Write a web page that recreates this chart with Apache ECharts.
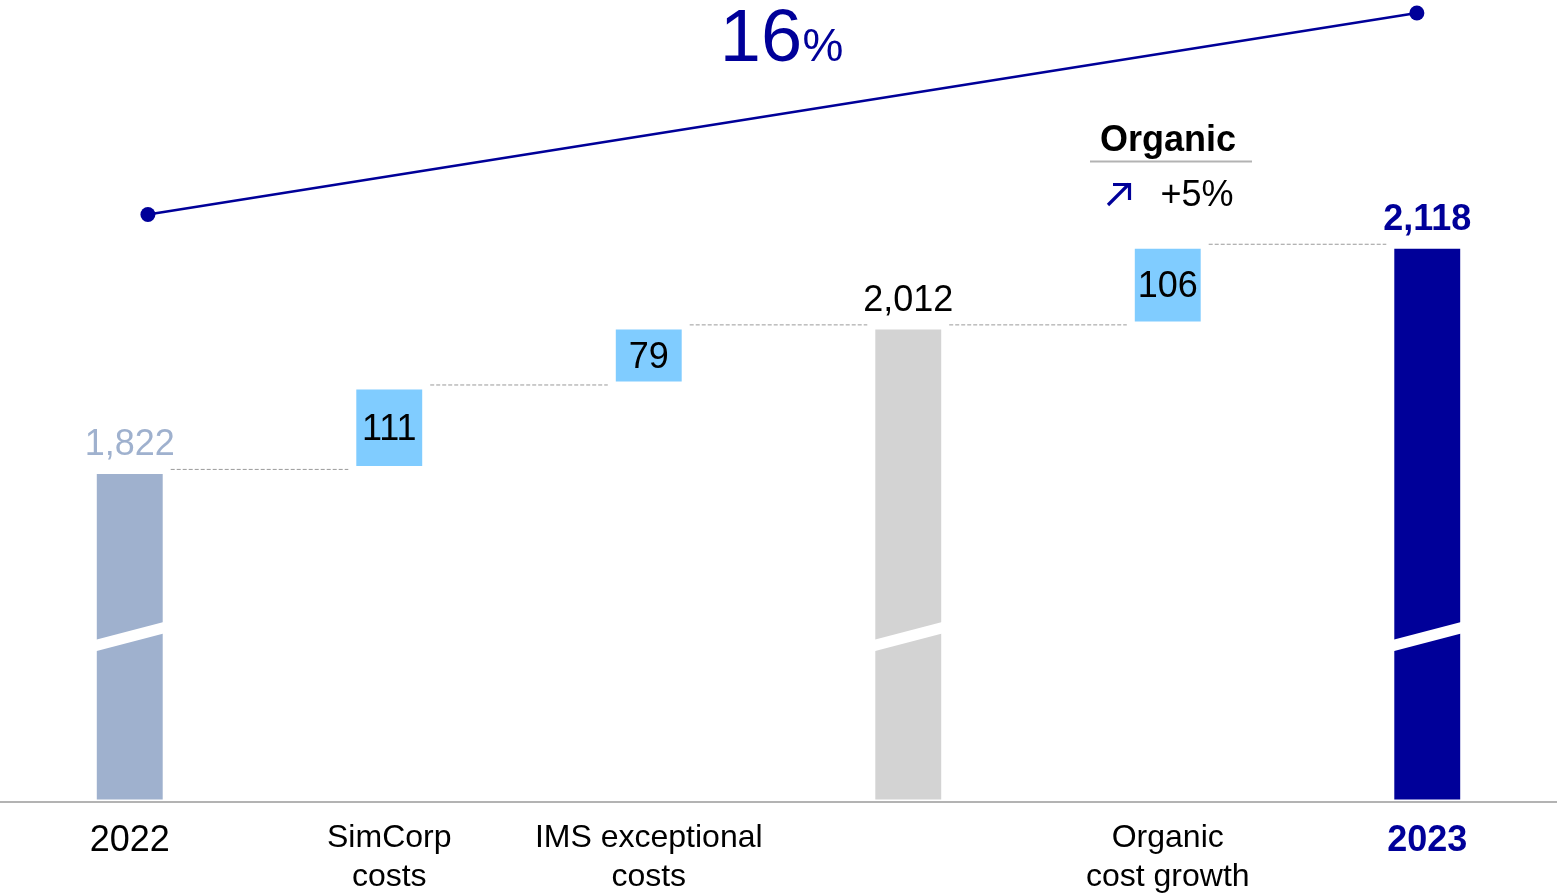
<!DOCTYPE html>
<html>
<head>
<meta charset="utf-8">
<script src="https://cdn.jsdelivr.net/npm/echarts@6/dist/echarts.min.js"></script>
<style>
  html, body { margin: 0; padding: 0; background: #fff; }
  #chart { width: 1557px; height: 893px; }
</style>
</head>
<body>
<div id="chart"></div>
<script>
// Cost bridge 2022 -> 2023 (DKKm)
const categories = ['2022', 'SimCorp\ncosts', 'IMS exceptional\ncosts', '', 'Organic\ncost growth', '2023'];
const totals     = [1822, null, null, 2012, null, 2118];   // full bars
const changes    = [null, 111, 79, null, 106, null];       // floating steps
const totalGrowthPct = 16;
const organicGrowthPct = 5;
// overall growth line: [category position, value]
const growthLine = [[0.07, 2163], [4.96, 2428]];

const FONT = "'Liberation Sans', Arial, sans-serif";
const NAVY = '#000099';
const barColors   = ['#9FB1CE', '#80CCFF', '#80CCFF', '#D3D3D3', '#80CCFF', NAVY];
const totalLabelColors = ['#9FB1CE', null, null, '#000000', null, NAVY];
const totalLabelWeights = ['normal', null, null, 'normal', null, 'bold'];

const Y_MIN = 1394, Y_MAX = 2445;
const AXIS_BREAK = 1608;     // value where the truncated bars are cut
const BAR_RATIO = 0.254;
const STEP_GAP = 8;          // px gap under floating bars
const fmt = v => v.toLocaleString('en-US');

// build bar rows from the data
const barRows = [];
const levels = [];
let level = 0;
categories.forEach((c, i) => {
  if (totals[i] != null) {
    barRows.push({ low: Y_MIN, high: totals[i], value: totals[i], kind: 'total' });
    level = totals[i];
  } else {
    barRows.push({ low: level, high: level + changes[i], value: changes[i], kind: 'step' });
    level += changes[i];
  }
  levels.push(level);
});

function renderBar(params, api) {
  const i = params.dataIndex;
  const row = barRows[i];
  const w = api.size([1, 0])[0] * BAR_RATIO;
  const top = api.coord([i, row.high]);
  const xc = top[0], yTop = top[1];
  let yBot = api.coord([i, row.low])[1];
  if (row.kind === 'step') yBot -= STEP_GAP;
  const children = [{
    type: 'rect',
    shape: { x: xc - w / 2, y: yTop, width: w, height: yBot - yTop },
    style: { fill: barColors[i] }
  }];
  if (row.kind === 'total') {
    // slanted white cut marking the truncated axis
    const yc = api.coord([i, AXIS_BREAK])[1];
    const half = w / 2 + 1, dy = half * 0.262, h = 5.75;
    children.push({
      type: 'polygon',
      shape: { points: [[xc - half, yc + dy - h], [xc + half, yc - dy - h], [xc + half, yc - dy + h], [xc - half, yc + dy + h]] },
      style: { fill: '#ffffff' }
    });
    children.push({
      type: 'text',
      style: {
        text: fmt(row.value), x: xc, y: yTop - 28.5,
        fill: totalLabelColors[i], fontSize: 36, fontFamily: FONT, fontWeight: totalLabelWeights[i],
        align: 'center', verticalAlign: 'middle', textAlign: 'center', textVerticalAlign: 'middle'
      }
    });
  } else {
    children.push({
      type: 'text',
      style: {
        text: fmt(row.value), x: xc, y: (yTop + yBot) / 2 + 2.5,
        fill: '#000000', fontSize: 36, fontFamily: FONT,
        align: 'center', verticalAlign: 'middle', textAlign: 'center', textVerticalAlign: 'middle'
      }
    });
  }
  return { type: 'group', children };
}

function renderConnector(params, api) {
  const i = params.dataIndex;
  const w = api.size([1, 0])[0] * BAR_RATIO;
  const a = api.coord([i, levels[i]]);
  const b = api.coord([i + 1, levels[i]]);
  const y = a[1] - 4.5;
  return {
    type: 'line',
    shape: { x1: a[0] + w / 2 + 8, y1: y, x2: b[0] - w / 2 - 8, y2: y },
    style: { stroke: '#9a9a9a', lineWidth: 1, lineDash: [4, 2] }
  };
}

const chart = echarts.init(document.getElementById('chart'), null, { renderer: 'canvas' });
chart.setOption({
  animation: false,
  backgroundColor: '#ffffff',
  grid: { left: -1.5, right: -2.5, top: 0, bottom: 92 },
  xAxis: [{
    type: 'category',
    data: categories,
    offset: 2,
    axisTick: { show: false },
    axisLine: { lineStyle: { color: '#9a9a9a', width: 1.5 } },
    axisLabel: {
      interval: 0,
      margin: 17,
      formatter: (v, i) => {
        if (i === 0) return '{y|' + v + '}';
        if (i === categories.length - 1) return '{e|' + v + '}';
        if (!v) return '';
        return v.split('\n').map(s => '{t|' + s + '}').join('\n');
      },
      rich: {
        y: { fontSize: 36, lineHeight: 46, color: '#000', fontFamily: FONT },
        e: { fontSize: 36, lineHeight: 46, color: NAVY, fontWeight: 'bold', fontFamily: FONT },
        t: { fontSize: 32, lineHeight: 39, color: '#000', fontFamily: FONT }
      }
    }
  }, {
    type: 'value', min: -0.5, max: categories.length - 0.5, show: false
  }],
  yAxis: { type: 'value', min: Y_MIN, max: Y_MAX, show: false, splitLine: { show: false } },
  series: [
    {
      type: 'custom',
      xAxisIndex: 0,
      renderItem: renderConnector,
      data: levels.slice(0, -1).map((v, i) => [i, v]),
      silent: true, z: 1
    },
    {
      type: 'custom',
      xAxisIndex: 0,
      renderItem: renderBar,
      data: barRows.map((r, i) => [i, r.low, r.high]),
      silent: true, z: 2
    },
    {
      type: 'line',
      xAxisIndex: 1,
      data: growthLine,
      symbol: 'circle',
      symbolSize: 15,
      clip: false,
      silent: true,
      lineStyle: { color: NAVY, width: 2.5 },
      itemStyle: { color: NAVY },
      z: 3
    }
  ],
  graphic: [
    { type: 'text', style: { text: String(totalGrowthPct), x: 761, y: 40.5, fill: NAVY, fontSize: 74, fontFamily: FONT,
        align: 'center', verticalAlign: 'middle', textAlign: 'center', textVerticalAlign: 'middle' } },
    { type: 'text', style: { text: '%', x: 823, y: 48.5, fill: NAVY, fontSize: 46, fontFamily: FONT,
        align: 'center', verticalAlign: 'middle', textAlign: 'center', textVerticalAlign: 'middle' } },
    { type: 'text', style: { text: 'Organic', x: 1168, y: 141, fill: '#000', fontSize: 36, fontWeight: 'bold', fontFamily: FONT,
        align: 'center', verticalAlign: 'middle', textAlign: 'center', textVerticalAlign: 'middle' } },
    { type: 'line', shape: { x1: 1090, y1: 161.5, x2: 1252, y2: 161.5 }, style: { stroke: '#b3b3b3', lineWidth: 2 } },
    { type: 'polyline', shape: { points: [[1108, 205], [1129, 184]] }, style: { stroke: NAVY, lineWidth: 3.2, fill: null } },
    { type: 'polyline', shape: { points: [[1113, 184.5], [1129.5, 184.5], [1129.5, 200]] }, style: { stroke: NAVY, lineWidth: 3.2, fill: null } },
    { type: 'text', style: { text: '+' + organicGrowthPct + '%', x: 1197, y: 196, fill: '#000', fontSize: 36, fontFamily: FONT,
        align: 'center', verticalAlign: 'middle', textAlign: 'center', textVerticalAlign: 'middle' } }
  ]
});
</script>
</body>
</html>
